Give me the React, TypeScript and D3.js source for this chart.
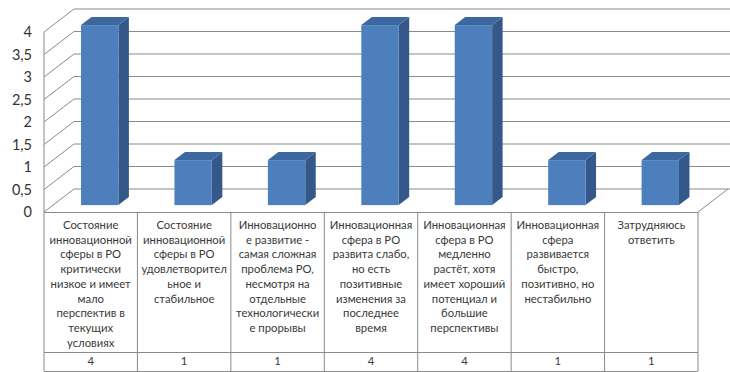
import React from "react";
import * as d3 from "d3";

const categoryLines: string[][] = [
  ["Состояние", "инновационной", "сферы в РО", "критически", "низкое и имеет", "мало", "перспектив в", "текущих", "условиях"],
  ["Состояние", "инновационной", "сферы в РО", "удовлетворител", "ьное и", "стабильное"],
  ["Инновационно", "е развитие -", "самая сложная", "проблема РО,", "несмотря на", "отдельные", "технологически", "е прорывы"],
  ["Инновационная", "сфера в РО", "развита слабо,", "но есть", "позитивные", "изменения за", "последнее", "время"],
  ["Инновационная", "сфера в РО", "медленно", "растёт, хотя", "имеет хороший", "потенциал и", "большие", "перспективы"],
  ["Инновационная", "сфера", "развивается", "быстро,", "позитивно, но", "нестабильно"],
  ["Затрудняюсь", "ответить"],
];
const values: number[] = [4, 1, 1, 4, 4, 1, 1];
const tickValues: number[] = [0, 0.5, 1, 1.5, 2, 2.5, 3, 3.5, 4];

const W = 730;
const H = 372;
const left = 44;
const right = 698;
const floorY = 212;
const topY = 32;
const depthX = 30;
const depthY = -23;
const frontD = 0.3;
const backD = 0.65;
const rowTextBottom = 352;
const tableBottom = 371;

const FONT = "Lato, 'Open Sans', sans-serif";

export default function App() {
  const idx = d3.range(values.length).map(String);
  const band = d3.scaleBand<string>().domain(idx).range([left, right]).paddingInner(0.6).paddingOuter(0.3);
  const cols = d3.scaleBand<string>().domain(idx).range([left, right]).padding(0);
  const y = d3.scaleLinear().domain([0, 4]).range([floorY, topY]);
  const fmt = (v: number) => String(v).replace(".", ",");

  const gridColor = "#8a8a8a";
  const fx = frontD * depthX, fy = frontD * depthY;
  const bx = (backD - frontD) * depthX, by = (backD - frontD) * depthY;

  return (
    <svg width={W} height={H} style={{ position: "absolute", left: 0, top: 0, background: "#fff" }} fontFamily={FONT}>
      {tickValues.map((t) => (
        <g key={"g" + t} stroke={gridColor} strokeWidth={1} fill="none">
          <line x1={left} y1={y(t)} x2={left + depthX} y2={y(t) + depthY} />
          <line x1={left + depthX} y1={y(t) + depthY} x2={W} y2={y(t) + depthY} />
        </g>
      ))}
      <line x1={left} y1={y(4)} x2={left} y2={floorY} stroke={gridColor} />
      <line x1={right} y1={floorY} x2={right + depthX} y2={floorY + depthY} stroke={gridColor} />

      {values.map((v, i) => {
        const x0 = (band(String(i)) as number) + fx;
        const x1 = x0 + band.bandwidth();
        const top = y(v) + fy;
        const bot = y(0) + fy;
        return (
          <g key={"b" + i}>
            <polygon
              points={`${x1},${top} ${x1 + bx},${top + by} ${x1 + bx},${bot + by} ${x1},${bot}`}
              fill="#34588a"
            />
            <polygon
              points={`${x0},${top} ${x0 + bx},${top + by} ${x1 + bx},${top + by} ${x1},${top}`}
              fill="#3d689f"
            />
            <rect x={x0} y={top} width={x1 - x0} height={bot - top} fill="#4d7fbd" />
          </g>
        );
      })}

      {tickValues.map((t) => (
        <text key={"t" + t} x={32} y={y(t)} dy="0.35em" textAnchor="end" fontSize={14.5} fill="#333">
          {fmt(t)}
        </text>
      ))}

      <g stroke={gridColor} strokeWidth={1}>
        <line x1={left} y1={floorY + 0.5} x2={right} y2={floorY + 0.5} />
        <line x1={left} y1={rowTextBottom + 0.5} x2={right} y2={rowTextBottom + 0.5} />
        <line x1={left} y1={tableBottom + 0.5} x2={right} y2={tableBottom + 0.5} />
        {idx.map((k) => (
          <line key={"v" + k} x1={cols(k) as number} y1={floorY} x2={cols(k) as number} y2={tableBottom} />
        ))}
        <line x1={right} y1={floorY} x2={right} y2={tableBottom} />
      </g>
      {categoryLines.map((lines, i) => {
        const cx = (cols(String(i)) as number) + cols.bandwidth() / 2;
        return (
          <g key={"c" + i}>
            {lines.map((ln, j) => (
              <text key={j} x={cx} y={225 + j * 14.75} dy="0.35em" textAnchor="middle" fontSize={11.3} fill="#3a3a3a">
                {ln}
              </text>
            ))}
            <text x={cx} y={361.5} dy="0.35em" textAnchor="middle" fontSize={11.3} fill="#3a3a3a">
              {values[i]}
            </text>
          </g>
        );
      })}
    </svg>
  );
}
